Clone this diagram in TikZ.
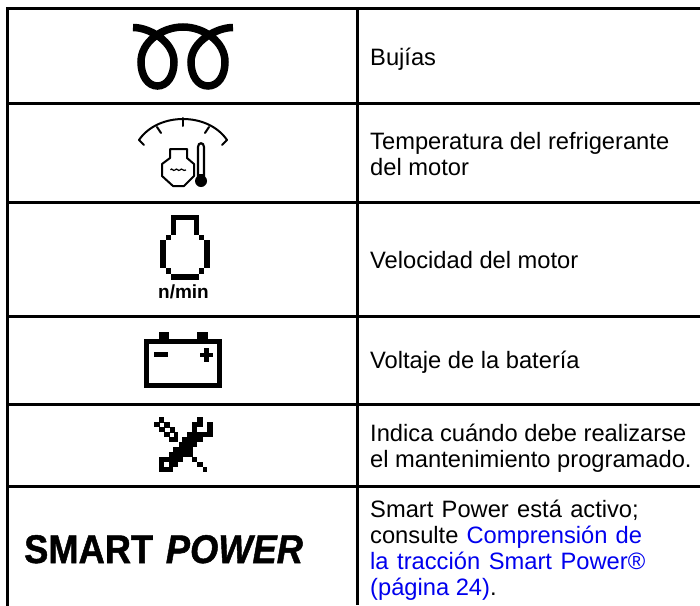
\documentclass[tikz,border=0pt]{standalone}
\usepackage{fontspec}
\setmainfont{Liberation Sans}
\newfontfamily\spfont[FakeBold=1.2]{Liberation Sans Bold}
\newfontfamily\spifont[FakeBold=1.2]{Liberation Sans Bold Italic}
\definecolor{linkblue}{RGB}{0,0,238}
\tikzset{
  x=1pt,y=-1pt,
  rule/.style={line width=3pt},
  label/.style={anchor=base west,inner sep=0pt,font=\fontsize{23.7}{26}\selectfont},
  coil/.style={line width=7.5pt},
  thin icon/.style={line width=2pt,line join=round,line cap=round},
}
\begin{document}
\begin{tikzpicture}
\useasboundingbox (0,0) rectangle (700,605);
\fill[white] (0,0) rectangle (700,605);
% grid
\draw[rule,line cap=rect] (7.5,605) -- (7.5,8.5);
\draw[rule] (6,8.5) -- (700,8.5);
\draw[rule] (357,8.5) -- (357,605);
\foreach \y in {103.5,202.5,316.5,404.5,486.5} \draw[rule] (7.5,\y) -- (700,\y);
% glow plug coil
\draw[coil] (133,27.5) .. controls (150,27.5) and (174,42) .. (174,62) .. controls (174,76) and (167,86) .. (157.5,86) .. controls (148,86) and (141,76) .. (141,62) .. controls (141,42) and (162,27) .. (183,27) .. controls (204,27) and (225,42) .. (225,62) .. controls (225,76) and (218,86) .. (208,86) .. controls (198,86) and (191,76) .. (191,62) .. controls (191,42) and (216,27.5) .. (233,27.5);
% temperature gauge
\draw[thin icon] (139,140) .. controls (158,112) and (208,112) .. (227,140);
\draw[thin icon] (139,140) -- (144,145);
\draw[thin icon] (227,140) -- (222,145);
\draw[thin icon] (157,127) -- (161,133);
\draw[thin icon] (183,118) -- (183,126);
\draw[thin icon] (209,127) -- (205,133);
\draw[thin icon] (170,149) -- (187,149) -- (187,158) -- (194,164) -- (194,176) -- (184,186) -- (173,186) -- (162,176) -- (162,164) -- (170,158) -- cycle;
\draw[line width=1.2pt] (170.5,170) .. controls (172,167) and (173,172) .. (175,170) .. controls (177,167) and (178,172) .. (180,170) .. controls (182,167) and (183,172) .. (186,170);
\fill[black] (201,181) circle (6);
\draw[line width=2.2pt,fill=white] (198,179) -- (198,147) .. controls (198,142) and (204,142) .. (204,147) -- (204,179);
\fill[black] (197,174) rectangle (205,182);
% engine speed
\fill[black] (171,215) rectangle (199,220);
\fill[black] (171,215) rectangle (176,235);
\fill[black] (194,215) rectangle (199,235);
\fill[black] (166,235) rectangle (171,240);
\fill[black] (199,235) rectangle (204,240);
\fill[black] (160,240) rectangle (166,268);
\fill[black] (204,240) rectangle (210,268);
\fill[black] (166,268) rectangle (171,274);
\fill[black] (199,268) rectangle (204,274);
\fill[black] (171,274) rectangle (199,280);
\node[inner sep=0pt,anchor=base,font=\bfseries\fontsize{19}{19}\selectfont] (rpm) at (183.5,298) {n/min};
% battery
\fill[black] (159,332) rectangle (169,340);
\fill[black] (197,332) rectangle (208,340);
\draw[line width=5pt] (146.5,341.5) rectangle (219.5,385.5);
\fill[black] (154,352) rectangle (168,357);
\fill[black] (200,353) rectangle (213,357);
\fill[black] (204,348) rectangle (209,362);
% tools (pixel icon, coordinates as in a 3x crop)
\begin{scope}[shift={(120,410)},x=0.3333pt,y=-0.3333pt]
\fill[black] (116,22) rectangle (133,37);
\fill[black] (103,37) rectangle (150,52);
\fill[black] (116,52) rectangle (165,67);
\fill[black] (132,67) rectangle (175,82);
\fill[black] (147,82) rectangle (175,97);
\fill[white] (120,40) rectangle (133,50);
\fill[white] (135,55) rectangle (150,65);
\fill[white] (150,70) rectangle (162,80);
\fill[black] (232,22) rectangle (248,37);
\fill[black] (216,37) rectangle (248,52);
\fill[black] (262,37) rectangle (278,67);
\fill[black] (216,52) rectangle (232,67);
\fill[black] (200,67) rectangle (278,82);
\fill[black] (185,82) rectangle (250,97);
\fill[black] (178,97) rectangle (232,112);
\fill[black] (160,112) rectangle (218,127);
\fill[black] (147,127) rectangle (205,142);
\fill[black] (116,142) rectangle (190,157);
\fill[black] (116,157) rectangle (175,172);
\fill[black] (116,172) rectangle (160,187);
\fill[white] (132,157) rectangle (147,170);
\fill[black] (205,125) rectangle (218,140);
\fill[black] (215,142) rectangle (232,157);
\fill[black] (232,157) rectangle (248,172);
\fill[black] (248,172) rectangle (262,187);
\end{scope}
% smart power
\node[inner sep=0pt,anchor=base west,xscale=0.907,transform shape,font=\fontsize{40}{40}\selectfont] (sp) at (24,563) {\spfont SMART\hspace{14pt}\spifont POWER};
% texts
\node[label] (t1) at (370,65) {Bujías};
\node[label] (t2a) at (370,149) {Temperatura del refrigerante};
\node[label] (t2b) at (370,175) {del motor};
\node[label] (t3) at (370,268) {Velocidad del motor};
\node[label] (t4) at (370,368) {Voltaje de la batería};
\node[label] (t5a) at (370,441) {Indica cuándo debe realizarse};
\node[label] (t5b) at (370,467) {el mantenimiento programado.};
\node[label] (t6a) at (370,517) {\spaceskip=8.3pt Smart Power está activo;};
\node[label] (t6b) at (370,543.5) {\spaceskip=8.1pt consulte \textcolor{linkblue}{Comprensión de}};
\node[label,text=linkblue] (t6c) at (370,569.5) {\spaceskip=8.6pt la tracción Smart Power®};
\node[label] (t6d) at (370,595.5) {\textcolor{linkblue}{(página 24)}.};
\end{tikzpicture}
\end{document}
